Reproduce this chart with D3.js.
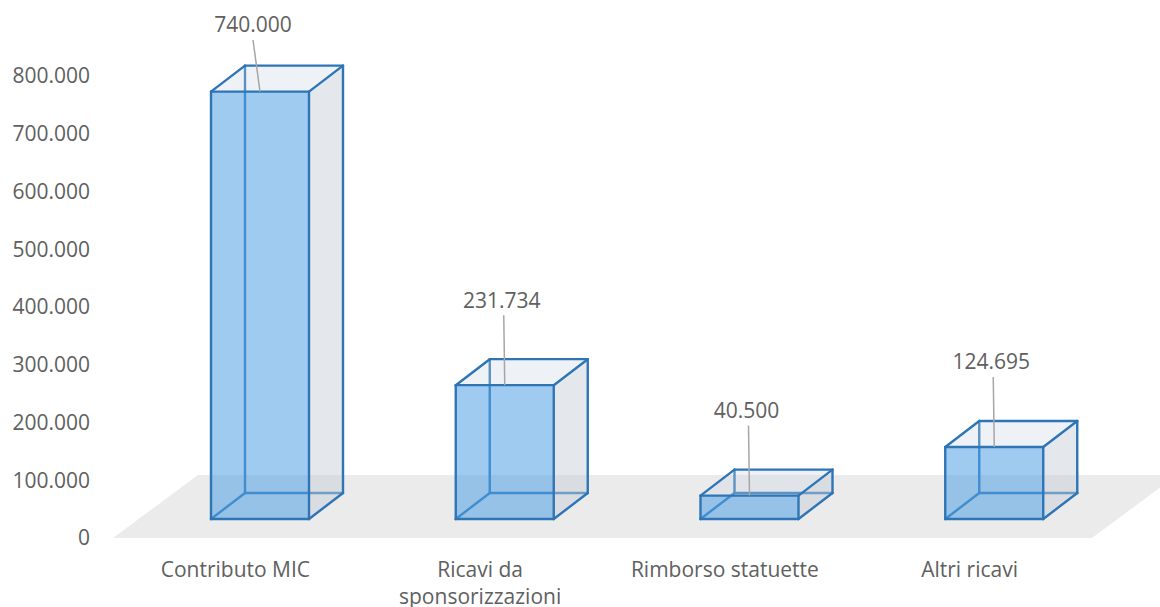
<!DOCTYPE html>
<html>
<head>
<meta charset="utf-8">
<script src="https://cdn.jsdelivr.net/npm/d3@7"></script>
<style>
  body { margin: 0; background: #fff; }
  svg text { font-family: "Open Sans", sans-serif; fill: #606060; }
</style>
</head>
<body>
<svg id="chart" width="1160" height="607"></svg>
<script>
// data
const categories = ["Contributo MIC", "Ricavi da sponsorizzazioni", "Rimborso statuette", "Altri ricavi"];
const values = [740000, 231734, 40500, 124695];
const yTicks = [0, 100000, 200000, 300000, 400000, 500000, 600000, 700000, 800000];

const svg = d3.select("svg#chart");

// italian number format: 740.000
const it = d3.formatLocale({decimal: ",", thousands: ".", grouping: [3], currency: ["€", ""]});
const fmt = it.format(",d");

// axis scale (front edge of the floor)
const y = d3.scaleLinear().domain([0, 800000]).range([538, 76]);
const x = d3.scaleBand().domain(categories).range([113, 1092]).padding(0);

// 3d geometry
const floorDepth = [85, -63];
const barDepth = [34, -26];
const barBase = 519;           // front bottom of the boxes
const barInset = 98;           // distance of front face from band start
const barW = 98;
const h = v => y(0) - y(v);    // bar height in px

// floor
const fl = [[113, 538], [1092, 538], [1092 + floorDepth[0], 538 + floorDepth[1]], [113 + floorDepth[0], 538 + floorDepth[1]]];
svg.append("path")
    .attr("d", d3.line()(fl) + "Z")
    .attr("fill", "#ebebeb");

// y axis labels
svg.append("g")
    .selectAll("text")
    .data(yTicks)
    .join("text")
    .attr("x", 90)
    .attr("y", d => y(d))
    .attr("dy", "0.35em")
    .attr("text-anchor", "end")
    .style("font-size", "21px")
    .text(d => fmt(d));

// bars
const stroke = "#2e75b6";
const bars = svg.append("g");

values.forEach((v, i) => {
    const x0 = x(categories[i]) + barInset;
    const x1 = x0 + barW;
    const yb = barBase;
    const yt = barBase - h(v);
    const [dx, dy] = barDepth;
    const p = {
        FBL: [x0, yb], FBR: [x1, yb], FTL: [x0, yt], FTR: [x1, yt],
        BBL: [x0 + dx, yb + dy], BBR: [x1 + dx, yb + dy],
        BTL: [x0 + dx, yt + dy], BTR: [x1 + dx, yt + dy]
    };
    const g = bars.append("g");
    const poly = pts => d3.line()(pts.map(k => p[k])) + "Z";
    const edge = (a, b) => g.append("line")
        .attr("x1", p[a][0]).attr("y1", p[a][1])
        .attr("x2", p[b][0]).attr("y2", p[b][1])
        .attr("stroke", stroke).attr("stroke-width", 2.4)
        .attr("stroke-linecap", "round");

    // hidden edges behind the faces
    edge("BBL", "BBR"); edge("BBL", "BTL"); edge("BBL", "FBL");

    // faces
    g.append("path").attr("d", poly(["FBR", "BBR", "BTR", "FTR"]))
        .attr("fill", "rgb(195,205,215)").attr("fill-opacity", 0.45);
    g.append("path").attr("d", poly(["FTL", "FTR", "BTR", "BTL"]))
        .attr("fill", "rgb(200,212,225)").attr("fill-opacity", 0.3);
    g.append("path").attr("d", poly(["FBL", "FBR", "FTR", "FTL"]))
        .attr("fill", "rgb(80,160,228)").attr("fill-opacity", 0.55);

    // visible edges
    [["FBL", "FBR"], ["FBR", "FTR"], ["FTR", "FTL"], ["FTL", "FBL"],
     ["FTL", "BTL"], ["FTR", "BTR"], ["BTL", "BTR"],
     ["FBR", "BBR"], ["BBR", "BTR"]].forEach(e => edge(e[0], e[1]));

    // data label with leader line (label pushed down to the top margin if needed)
    const cx = x0 + barW / 2;
    const clamped = yt - 85 < 25;
    const ly = clamped ? 25 : yt - 85;
    const lx = clamped ? cx - 7 : cx - 3;
    g.append("line")
        .attr("x1", clamped ? lx : cx - 1).attr("y1", ly + 15)
        .attr("x2", cx).attr("y2", yt)
        .attr("stroke", "#a6a6a6").attr("stroke-width", 1.5);
    g.append("text")
        .attr("x", lx)
        .attr("y", ly)
        .attr("dy", "0.35em")
        .attr("text-anchor", "middle")
        .style("font-size", "21px")
        .text(fmt(v));
});

// category labels (wrapped like the original)
const wrap = {"Ricavi da sponsorizzazioni": ["Ricavi da", "sponsorizzazioni"]};
svg.append("g")
    .selectAll("text")
    .data(categories)
    .join("text")
    .attr("x", d => x(d) + x.bandwidth() / 2)
    .attr("y", 570)
    .attr("text-anchor", "middle")
    .style("font-size", "21px")
    .each(function(d) {
        const lines = wrap[d] || [d];
        d3.select(this).selectAll("tspan")
            .data(lines)
            .join("tspan")
            .attr("x", x(d) + x.bandwidth() / 2)
            .attr("dy", (l, j) => j === 0 ? "0.35em" : "1.25em")
            .text(l => l);
    });
</script>
</body>
</html>
